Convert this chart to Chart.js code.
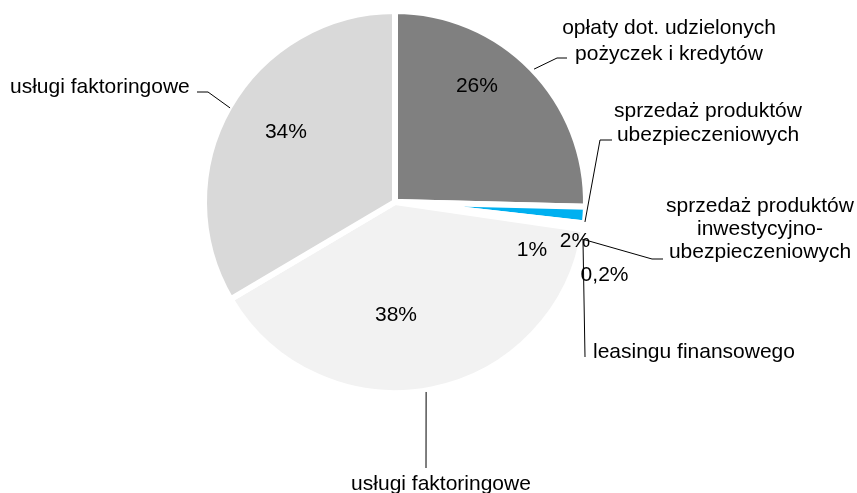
<!DOCTYPE html>
<html>
<head>
<meta charset="utf-8">
<script src="https://cdn.jsdelivr.net/npm/chart.js@4/dist/chart.umd.min.js"></script>
<style>
  html, body { margin: 0; padding: 0; background: #ffffff; }
  #wrap { width: 857px; height: 493px; position: relative; }
</style>
</head>
<body>
<div id="wrap"><canvas id="c" width="857" height="493"></canvas></div>
<script>
// ---- data ----
const categories = [
  'opłaty dot. udzielonych pożyczek i kredytów',
  'sprzedaż produktów ubezpieczeniowych',
  'sprzedaż produktów inwestycyjno-ubezpieczeniowych',
  'leasingu finansowego',
  'usługi faktoringowe',
  'usługi faktoringowe'
];
const shares = [25.4, 1.4, 0.35, 0.15, 39.2, 33.5];
const percentLabels = ['26%', '2%', '1%', '0,2%', '38%', '34%'];
const categoryLines = [
  ['opłaty dot. udzielonych', 'pożyczek i kredytów'],
  ['sprzedaż produktów', 'ubezpieczeniowych'],
  ['sprzedaż produktów', 'inwestycyjno-', 'ubezpieczeniowych'],
  ['leasingu finansowego'],
  ['usługi faktoringowe'],
  ['usługi faktoringowe']
];

// ---- styles / layout ----
const sliceColors = ['#808080', '#00B0F0', '#FFFFFF', '#FFFFFF', '#F2F2F2', '#D9D9D9'];
const BORDER = 6;
const FONT = '21px "Liberation Sans", Arial, sans-serif';
// percent label placement: [angle deg clockwise from top, radius fraction]
const pctPlace = [[35.2, 0.756], [102.4, 0.980], [109.5, 0.773], [109.3, 1.181], [179.5, 0.604], [302.5, 0.688]];
// leader: inner anchor on the pie [angle, radius fraction], then elbow points (px)
const leaders = [
  { a: 46.3, r: 1.023, pts: [[557, 58], [567, 58]] },
  { a: 96.0, r: 1.016, pts: [[600, 140], [612, 140]] },
  { a: 101.2, r: 1.014, pts: [[652, 259], [663, 259]] },
  { a: 101.4, r: 1.02, pts: [[585, 357]] },
  { a: 170.7, r: 1.024, pts: [[426, 468]] },
  { a: 299.7, r: 1.01, pts: [[208, 92], [197, 92]] }
];
// category text blocks: x, first baseline, line height, align
const textPlace = [
  { x: 669, y: 34, lh: 26, align: 'center' },
  { x: 708, y: 117, lh: 23.5, align: 'center' },
  { x: 760, y: 211.7, lh: 23.3, align: 'center' },
  { x: 593, y: 358, lh: 24, align: 'left' },
  { x: 441, y: 490, lh: 24, align: 'center' },
  { x: 10, y: 93, lh: 24, align: 'left' }
];

function polar(cx, cy, R, deg, f) {
  const t = deg * Math.PI / 180;
  return [cx + R * f * Math.sin(t), cy - R * f * Math.cos(t)];
}

const labelsPlugin = {
  id: 'labelsPlugin',
  afterDraw(chart) {
    const ctx = chart.ctx;
    const meta = chart.getDatasetMeta(0);
    const arc = meta.data[0];
    const cx = arc.x, cy = arc.y;
    const R = arc.outerRadius - BORDER / 2;
    ctx.save();
    // leaders
    ctx.strokeStyle = '#000000';
    ctx.lineWidth = 1;
    leaders.forEach(l => {
      const p0 = polar(cx, cy, R, l.a, l.r);
      ctx.beginPath();
      ctx.moveTo(p0[0], p0[1]);
      l.pts.forEach(p => ctx.lineTo(p[0], p[1]));
      ctx.stroke();
    });
    ctx.font = FONT;
    ctx.fillStyle = '#000000';
    // percent labels
    ctx.textAlign = 'center';
    ctx.textBaseline = 'middle';
    percentLabels.forEach((t, i) => {
      const p = polar(cx, cy, R, pctPlace[i][0], pctPlace[i][1]);
      ctx.fillText(t, p[0], p[1]);
    });
    // category labels
    ctx.textBaseline = 'alphabetic';
    categoryLines.forEach((lines, i) => {
      const tp = textPlace[i];
      ctx.textAlign = tp.align;
      lines.forEach((ln, k) => ctx.fillText(ln, tp.x, tp.y + k * tp.lh));
    });
    ctx.restore();
  }
};

new Chart(document.getElementById('c'), {
  type: 'pie',
  data: {
    labels: categories,
    datasets: [{
      data: shares,
      backgroundColor: sliceColors,
      borderColor: '#FFFFFF',
      borderWidth: BORDER
    }]
  },
  options: {
    responsive: false,
    animation: false,
    layout: { padding: { left: 201, top: 8, right: 268, bottom: 97 } },
    plugins: { legend: { display: false }, tooltip: { enabled: false } }
  },
  plugins: [labelsPlugin]
});
</script>
</body>
</html>
